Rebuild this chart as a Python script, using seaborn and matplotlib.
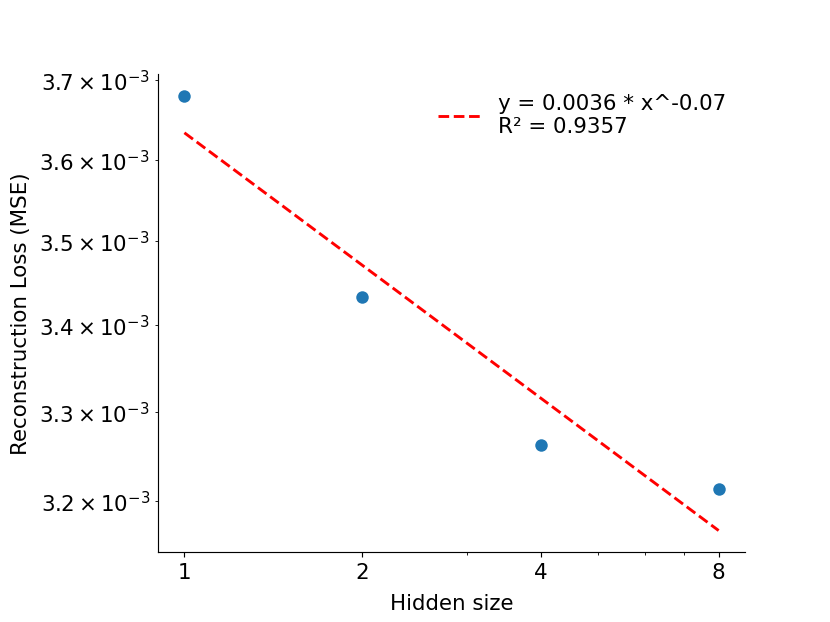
import numpy as np
import pandas as pd
import seaborn as sns
import matplotlib.pyplot as plt
from matplotlib.ticker import NullFormatter

# Data
hidden_sizes = [1, 2, 4, 8]
mse_loss = [3.680e-3, 3.433e-3, 3.2625e-3, 3.2135e-3]
xtick_labels = ['1', '2', '4', '8']
fit_label = 'y = 0.0036 * x^-0.07\nR² = 0.9357'

df = pd.DataFrame({'hidden': hidden_sizes, 'mse': mse_loss})

# Power-law fit in log-log space
slope, intercept = np.polyfit(np.log(df['hidden']), np.log(df['mse']), 1)
a = np.exp(intercept)

sns.set_style('ticks')
plt.rcParams['font.family'] = ['DejaVu Sans']
plt.rcParams.update({
    'text.color': 'black', 'axes.labelcolor': 'black',
    'xtick.color': 'black', 'ytick.color': 'black',
    'axes.edgecolor': 'black',
})
fs = 14.8

fig, ax = plt.subplots(figsize=(8, 6), dpi=103.75)
fig.subplots_adjust(left=0.19, right=0.898, bottom=0.112, top=0.88)

sns.scatterplot(data=df, x='hidden', y='mse', s=75, color='#1f77b4', linewidth=0, ax=ax, zorder=3)

xfit = np.linspace(min(hidden_sizes), max(hidden_sizes), 100)
ax.plot(xfit, a * xfit ** slope, 'r--', lw=2, label=fit_label)

ax.set_xscale('log')
ax.set_yscale('log')
ax.set_xticks(hidden_sizes)
ax.set_xticklabels(xtick_labels)
ax.xaxis.set_minor_formatter(NullFormatter())

ax.set_xlabel('Hidden size', fontsize=fs, labelpad=8)
ax.set_ylabel('Reconstruction Loss (MSE)', fontsize=fs, labelpad=6)
ax.tick_params(which='both', labelsize=fs)
ax.legend(loc='upper right', frameon=False, fontsize=fs)
sns.despine(ax=ax)

fig.savefig('out.png', dpi=103.75)
